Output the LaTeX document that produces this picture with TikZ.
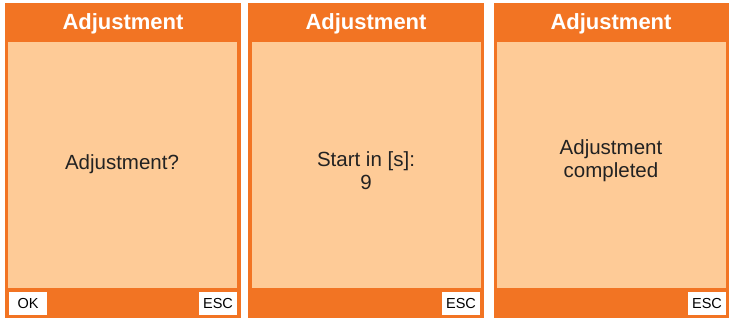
\documentclass[tikz,border=0pt]{standalone}
\usepackage{fontspec}
\setmainfont{Liberation Sans}
\definecolor{frameorange}{HTML}{F27423}
\definecolor{screenlight}{HTML}{FECB97}
\definecolor{bodytext}{HTML}{222222}
\begin{document}
\begin{tikzpicture}[x=1pt,y=-1pt,
  titletext/.style={text=white,font=\fontsize{22}{26}\selectfont\bfseries,anchor=base,inner sep=0pt},
  bodytxt/.style={text=bodytext,font=\fontsize{20.5}{23}\selectfont,anchor=base,inner sep=0pt},
  btntxt/.style={text=black,font=\fontsize{14.5}{17}\selectfont,anchor=base,inner sep=0pt},
  btnbox/.style={fill=white},
]
\useasboundingbox[fill=white] (0,0) rectangle (729,320);
% panel 1
\fill[frameorange] (5,3) rectangle (241,318);
\fill[screenlight] (8,42) rectangle (237,288);
\fill[btnbox] (9,292) rectangle (47,315);
\fill[btnbox] (199,292) rectangle (237,315);
\node[titletext] (t1) at (123,30) {Adjustment};
\node[bodytxt] (b1) at (122,170) {Adjustment?};
\node[btntxt] (ok1) at (28,309) {OK};
\node[btntxt] (esc1) at (218,309) {ESC};
% panel 2
\fill[frameorange] (248,3) rectangle (484,318);
\fill[screenlight] (252,42) rectangle (481,288);
\fill[btnbox] (442,292) rectangle (480,315);
\node[titletext] (t2) at (366,30) {Adjustment};
\node[bodytxt] (b2a) at (366,167) {Start in [s]:};
\node[bodytxt] (b2b) at (366,190) {9};
\node[btntxt] (esc2) at (461,309) {ESC};
% panel 3
\fill[frameorange] (494,3) rectangle (729,318);
\fill[screenlight] (497,42) rectangle (726,288);
\fill[btnbox] (688,292) rectangle (726,315);
\node[titletext] (t3) at (611,30) {Adjustment};
\node[bodytxt] (b3a) at (611,155) {Adjustment};
\node[bodytxt] (b3b) at (611,178) {completed};
\node[btntxt] (esc3) at (707,309) {ESC};
\end{tikzpicture}
\end{document}
